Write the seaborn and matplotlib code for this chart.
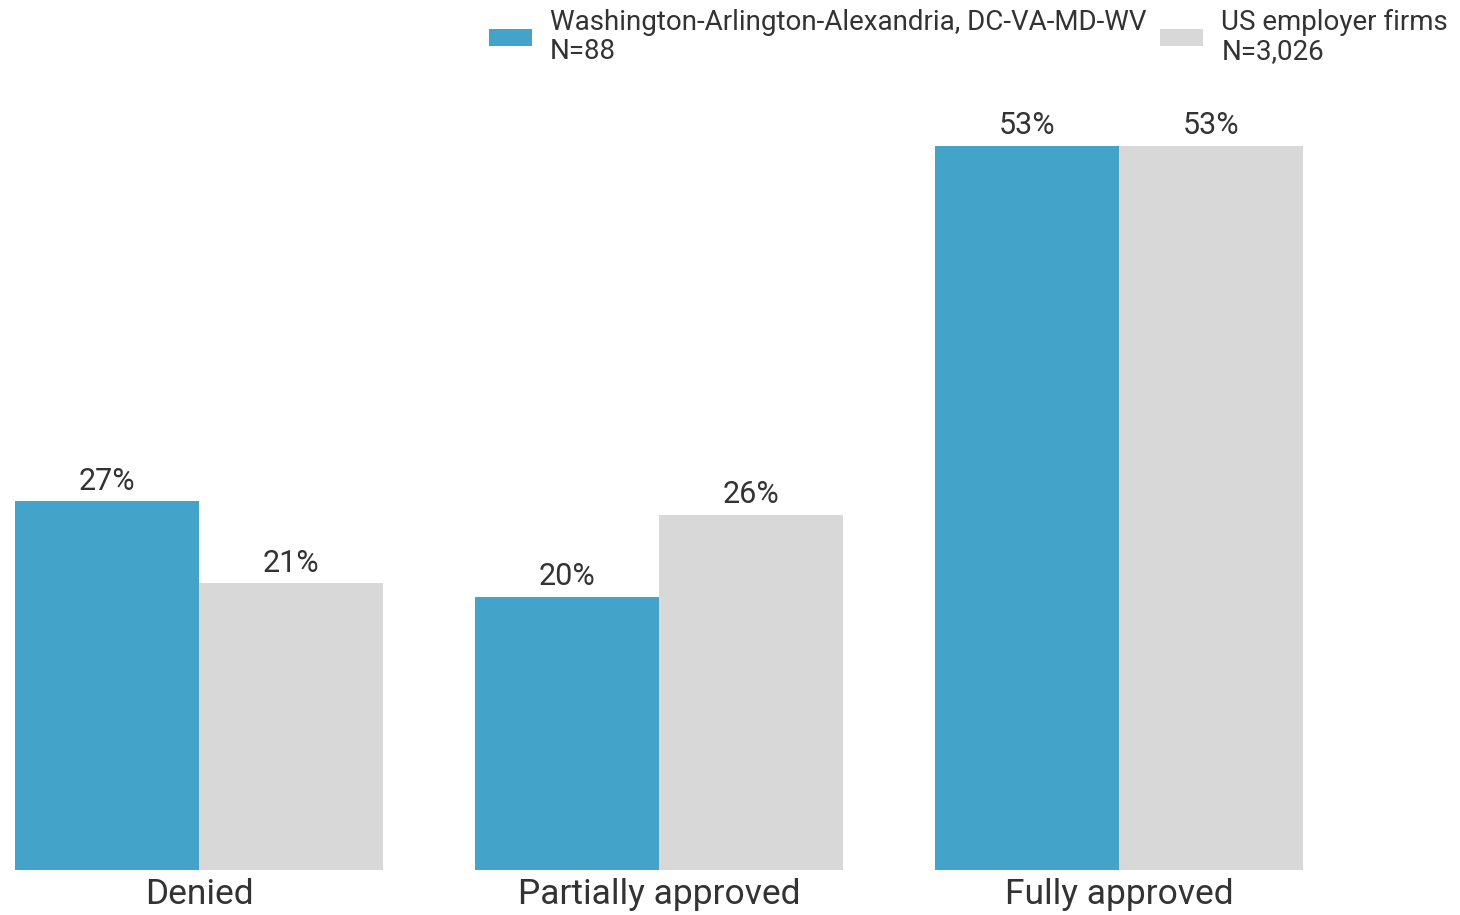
import matplotlib
matplotlib.use("Agg")
import matplotlib.pyplot as plt
import seaborn as sns
import pandas as pd

categories = ["Denied", "Partially approved", "Fully approved"]
series_names = ["Washington-Arlington-Alexandria, DC-VA-MD-WV\nN=88", "US employer firms\nN=3,026"]
dc_values = [27, 20, 53]
us_values = [21, 26, 53]
colors = ["#43A3C8", "#D8D8D8"]

df = pd.DataFrame({
    "category": categories * 2,
    "series": [series_names[0]] * 3 + [series_names[1]] * 3,
    "value": dc_values + us_values,
})

sns.set_theme(style="white")
plt.rcParams["font.family"] = ["Roboto", "DejaVu Sans"]

fig = plt.figure(figsize=(14.6, 9.15), dpi=100)
ax = fig.add_axes([15 / 1460, 45 / 915, (1303 - 15) / 1460, 819.6 / 915])
sns.barplot(data=df, x="category", y="value", hue="series", palette=colors,
            hue_order=series_names, order=categories, ax=ax, width=0.8,
            linewidth=0, saturation=1)
ax.set_xlim(-0.4, 2.4)
ax.set_ylim(0, 60)
for c in ax.containers:
    ax.bar_label(c, labels=[f"{v:.0f}%" for v in c.datavalues], padding=4,
                 fontsize=22, color="#333333")
ax.set_xlabel("")
ax.set_ylabel("")
ax.set_yticks([])
ax.tick_params(axis="x", labelsize=25.5, colors="#333333", length=0, pad=6)
sns.despine(ax=ax, left=True, bottom=True)
handles, labels = ax.get_legend_handles_labels()
ax.get_legend().remove()
fig.legend(handles, labels, loc="upper right", bbox_to_anchor=(1.009, 1.018), ncol=2,
           frameon=False, fontsize=20, handlelength=1.55, handleheight=0.55,
           handletextpad=0.65, columnspacing=0.5, labelcolor="#333333",
           labelspacing=0.3)
for t in fig.legends[0].get_texts():
    t.set_linespacing(1.12)
fig.savefig("out.png", dpi=100)
